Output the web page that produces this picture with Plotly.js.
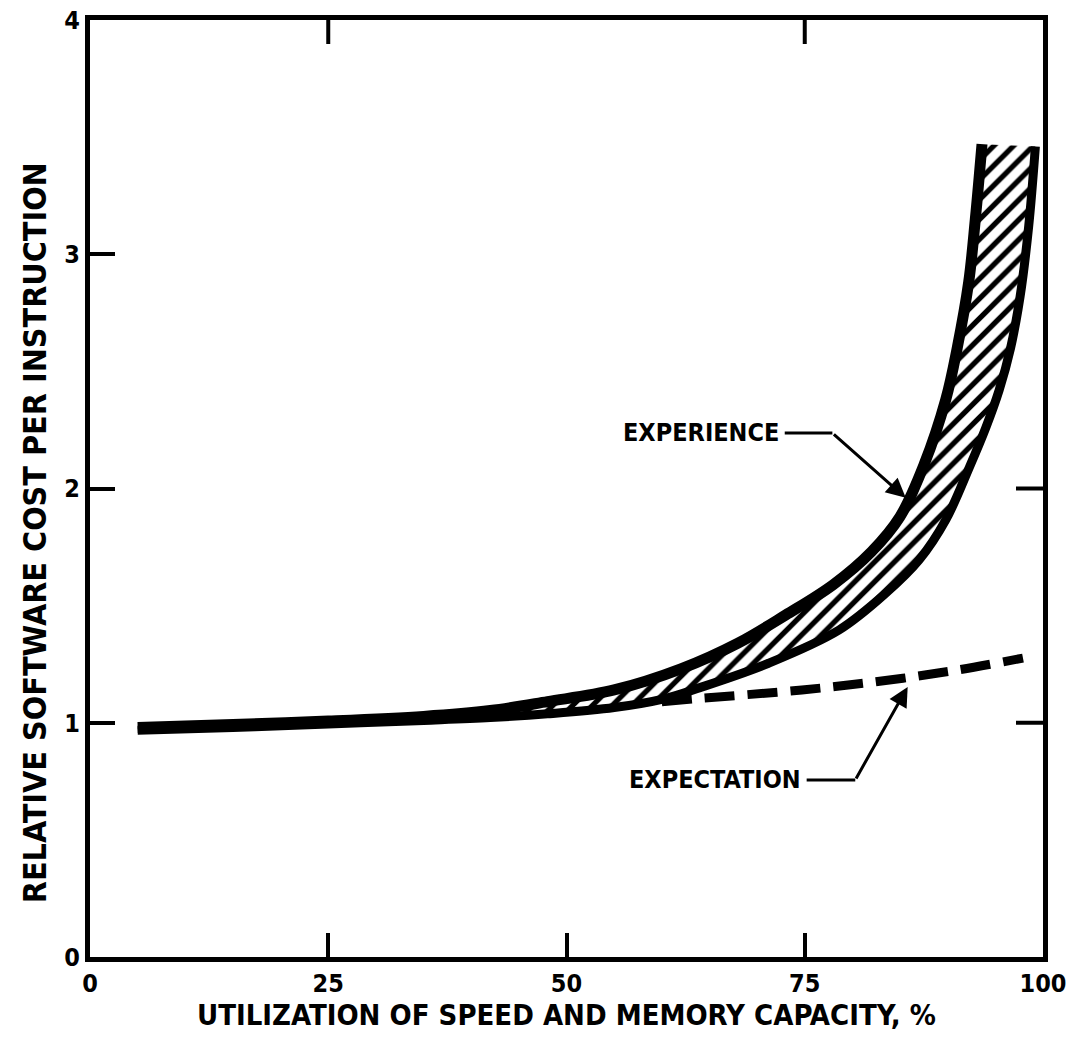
<!DOCTYPE html>
<html>
<head>
<meta charset="utf-8">
<script src="https://cdn.plot.ly/plotly-3.0.1.min.js"></script>
<style>html,body{margin:0;padding:0;background:#fff;}#chart{width:1069px;height:1041px;}</style>
</head>
<body>
<div id="chart"></div>
<script>
// Experience band: inner (upper) boundary
const expUpperX = [5, 15, 25, 35, 42, 48, 55, 62, 68, 73, 78, 82, 85, 87.5, 89.8, 91.0, 92.2, 92.9, 93.6];
const expUpperY = [0.98, 0.993, 1.007, 1.027, 1.052, 1.09, 1.14, 1.23, 1.34, 1.46, 1.59, 1.73, 1.88, 2.1, 2.38, 2.6, 2.88, 3.15, 3.47];
// Experience band: outer (lower) boundary
const expLowerX = [5, 15, 25, 35, 42, 48, 55, 60, 64, 71.2, 78.6, 83.5, 87, 89.8, 92.3, 94.0, 95.4, 96.6, 97.6, 98.5, 99.2];
const expLowerY = [0.968, 0.98, 0.995, 1.01, 1.022, 1.038, 1.065, 1.1, 1.15, 1.254, 1.396, 1.553, 1.695, 1.866, 2.093, 2.26, 2.42, 2.6, 2.82, 3.12, 3.46];
// Expectation (dashed)
const expectX = [60, 64.2, 69, 74.7, 80, 85.3, 91, 97.9];
const expectY = [1.09, 1.105, 1.12, 1.14, 1.163, 1.19, 1.225, 1.276];
// Axis ticks
const xTicks = [0, 25, 50, 75, 100];
const yTicks = [0, 1, 2, 3, 4];
const xTopTicks = [25, 75];
const yRightTicks = [1, 2];

const bandX = expUpperX.concat(expLowerX.slice().reverse());
const bandY = expUpperY.concat(expLowerY.slice().reverse());

const FONT = "DejaVu Sans Condensed, DejaVu Sans, sans-serif";

const traces = [
  {x: bandX, y: bandY, type: 'scatter', mode: 'lines', fill: 'toself', fillcolor: 'white',
   line: {width: 0, color: 'rgba(0,0,0,0)'},
   fillpattern: {shape: '/', size: 14, solidity: 0.38, fgcolor: 'black', bgcolor: 'white'},
   hoverinfo: 'skip', showlegend: false},
  {x: expUpperX, y: expUpperY, type: 'scatter', mode: 'lines', line: {color: 'black', width: 11, shape: 'spline', smoothing: 1}, showlegend: false},
  {x: expLowerX, y: expLowerY, type: 'scatter', mode: 'lines', line: {color: 'black', width: 9, shape: 'spline', smoothing: 1}, showlegend: false},
  {x: expectX, y: expectY, type: 'scatter', mode: 'lines', line: {color: 'black', width: 9, dash: '30px,13px', shape: 'spline', smoothing: 1}, showlegend: false}
];

const shapes = [];
xTopTicks.forEach(v => shapes.push({type: 'line', xref: 'x', yref: 'paper', x0: v, x1: v, y0: 1, y1: 1 - 24/937, line: {color: 'black', width: 4}}));
yRightTicks.forEach(v => shapes.push({type: 'line', xref: 'paper', yref: 'y', x0: 1, x1: 1 - 27/953, y0: v, y1: v, line: {color: 'black', width: 4}}));
// leader lines
shapes.push({type: 'line', xref: 'x', yref: 'y', x0: 72.9, x1: 77.9, y0: 2.237, y1: 2.237, line: {color: 'black', width: 3}});
shapes.push({type: 'line', xref: 'x', yref: 'y', x0: 75.2, x1: 80.3, y0: 0.756, y1: 0.756, line: {color: 'black', width: 3}});

const annotations = [
  {x: 72.5, y: 2.237, xref: 'x', yref: 'y', text: 'EXPERIENCE', showarrow: false, xanchor: 'right', yanchor: 'middle',
   font: {family: FONT, size: 25, color: 'black', weight: 'bold'}},
  {x: 74.8, y: 0.756, xref: 'x', yref: 'y', text: 'EXPECTATION', showarrow: false, xanchor: 'right', yanchor: 'middle',
   font: {family: FONT, size: 25, color: 'black', weight: 'bold'}},
  {x: 85.6, y: 1.96, xref: 'x', yref: 'y', axref: 'x', ayref: 'y', ax: 77.9, ay: 2.237, text: '', showarrow: true,
   arrowhead: 2, arrowsize: 1.3, arrowwidth: 3, arrowcolor: 'black', standoff: 0},
  {x: 85.8, y: 1.153, xref: 'x', yref: 'y', axref: 'x', ayref: 'y', ax: 80.3, ay: 0.756, text: '', showarrow: true,
   arrowhead: 2, arrowsize: 1.3, arrowwidth: 3, arrowcolor: 'black', standoff: 0},
  {x: -0.058, y: 0.453, xref: 'paper', yref: 'paper', text: 'RELATIVE SOFTWARE COST PER INSTRUCTION', textangle: -90,
   showarrow: false, xanchor: 'center', yanchor: 'middle', font: {family: FONT, size: 32, color: 'black', weight: 'bold'}}
];

const layout = {
  width: 1069, height: 1041,
  margin: {l: 90, r: 26, t: 20, b: 84},
  paper_bgcolor: 'white', plot_bgcolor: 'white',
  showlegend: false,
  xaxis: {range: [0, 100], tickvals: xTicks, ticktext: xTicks.map(String), ticks: 'inside', ticklen: 24, tickwidth: 4, tickcolor: 'black',
          showline: true, linewidth: 5, linecolor: 'black', mirror: true, showgrid: false, zeroline: false,
          tickfont: {family: FONT, size: 25, color: 'black', weight: 'bold'},
          title: {text: 'UTILIZATION OF SPEED AND MEMORY CAPACITY, %', font: {family: FONT, size: 29, color: 'black', weight: 'bold'}, standoff: 6}},
  yaxis: {range: [0, 4], tickvals: yTicks, ticktext: yTicks.map(String), ticks: 'inside', ticklen: 25, tickwidth: 4, tickcolor: 'black',
          showline: true, linewidth: 5, linecolor: 'black', mirror: true, showgrid: false, zeroline: false,
          tickfont: {family: FONT, size: 25, color: 'black', weight: 'bold'}},
  shapes: shapes,
  annotations: annotations
};

Plotly.newPlot('chart', traces, layout, {staticPlot: true, displayModeBar: false});
</script>
</body>
</html>
